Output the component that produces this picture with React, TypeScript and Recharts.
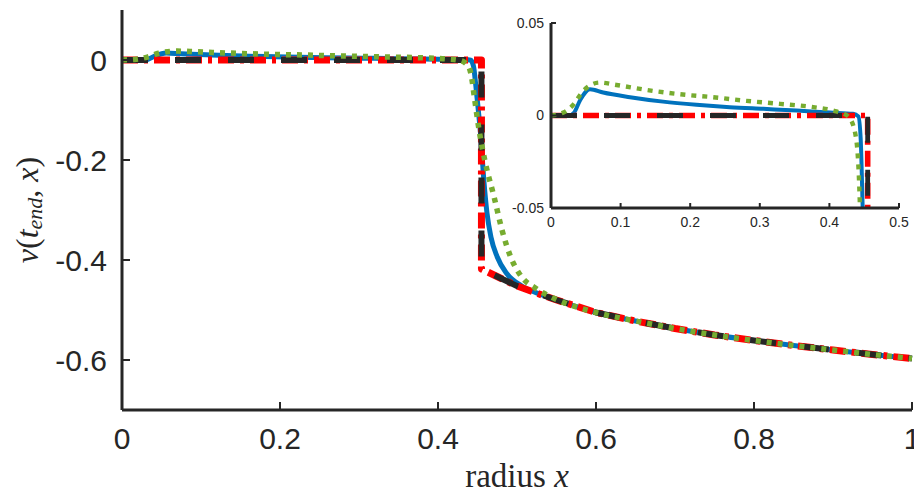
import { Label, Line, LineChart, XAxis, YAxis } from "recharts";

// reference solutions (red dash-dot, black dashed) share one grid
const exactX = [0, 0.455, 0.455, 0.48, 0.5, 0.528, 0.55, 0.6, 0.65, 0.7, 0.75, 0.8, 0.85, 0.9, 0.95, 1.0];
const redV = [0, 0, -0.418, -0.437, -0.452, -0.468, -0.48, -0.505, -0.522, -0.537, -0.55, -0.561, -0.571, -0.58, -0.589, -0.597];
const blackV = [0, 0, -0.418, -0.437, -0.452, -0.468, -0.48, -0.505, -0.522, -0.537, -0.55, -0.561, -0.571, -0.58, -0.589, -0.597];

const blueX = [
  0, 0.026, 0.033, 0.042, 0.056, 0.075, 0.1135, 0.161, 0.209, 0.257, 0.305, 0.353, 0.401, 0.434, 0.4416, 0.445,
  0.4478, 0.451, 0.454, 0.458, 0.462, 0.467, 0.475, 0.487, 0.506, 0.53, 0.55, 0.6, 0.65, 0.7, 0.75, 0.8, 0.85, 0.9,
  0.95, 1.0
];
const blueV = [
  0, 0, 0.0015, 0.0084, 0.0142, 0.0124, 0.0099, 0.0075, 0.0058, 0.0045, 0.0036, 0.0027, 0.0016, 0.0009, -0.0005,
  -0.013, -0.05, -0.1, -0.15, -0.24, -0.306, -0.354, -0.394, -0.427, -0.452, -0.469, -0.48, -0.505, -0.522, -0.537,
  -0.55, -0.561, -0.571, -0.58, -0.589, -0.597
];

const greenX = [
  0, 0.018, 0.032, 0.0465, 0.07, 0.094, 0.1375, 0.185, 0.233, 0.281, 0.329, 0.377, 0.41, 0.427, 0.437, 0.442, 0.446,
  0.452, 0.46, 0.471, 0.481, 0.492, 0.506, 0.524, 0.55, 0.6, 0.65, 0.7, 0.75, 0.8, 0.85, 0.9, 0.95, 1.0
];
const greenV = [
  0, 0.0016, 0.0058, 0.0134, 0.0178, 0.0165, 0.0138, 0.0115, 0.0099, 0.0079, 0.0063, 0.0045, 0.0022, -0.0005, -0.0095,
  -0.03, -0.074, -0.14, -0.206, -0.274, -0.34, -0.394, -0.434, -0.457, -0.479, -0.505, -0.522, -0.537, -0.55, -0.561,
  -0.571, -0.58, -0.589, -0.597
];

const mainXTicks = [0, 0.2, 0.4, 0.6, 0.8, 1];
const mainYTicks = [-0.6, -0.4, -0.2, 0];
const insetXTicks = [0, 0.1, 0.2, 0.3, 0.4, 0.5];
const insetYTicks = [-0.05, 0, 0.05];

const toPoints = (xs: number[], vs: number[]) => xs.map((x, i) => ({ x, v: vs[i] }));
const bluePts = toPoints(blueX, blueV);
const redPts = toPoints(exactX, redV);
const blackPts = toPoints(exactX, blackV);
const greenPts = toPoints(greenX, greenV);

const INK = "#262626";
const COLORS = { blue: "#0072BD", red: "#FF0000", black: "#262626", green: "#77AC30" };
const SANS = "'Liberation Sans', Arial, sans-serif";
const SERIF = "'Liberation Serif', 'Times New Roman', serif";

function YTitle(props: any) {
  const vb = props.viewBox ?? { x: 0, y: 10, width: 122, height: 400 };
  const cx = vb.x + 27;
  const cy = vb.y + vb.height / 2;
  return (
    <text
      x={cx}
      y={cy}
      transform={`rotate(-90, ${cx}, ${cy})`}
      textAnchor="middle"
      dominantBaseline="central"
      fontFamily={SERIF}
      fontSize={32}
      fill={INK}
    >
      <tspan fontStyle="italic">v</tspan>(<tspan fontStyle="italic">t</tspan>
      <tspan fontStyle="italic" fontSize={22} dy={7}>
        end
      </tspan>
      <tspan dy={-7}>, </tspan>
      <tspan fontStyle="italic">x</tspan>)
    </text>
  );
}

function XTitle(props: any) {
  const vb = props.viewBox ?? { x: 122, y: 410, width: 790, height: 60 };
  return (
    <text x={vb.x + vb.width / 2} y={vb.y + 77} textAnchor="middle" fontFamily={SERIF} fontSize={33} fill={INK}>
      radius <tspan fontStyle="italic">x</tspan>
    </text>
  );
}

export default function App() {
  // w scales the line widths: 1 for the main plot, thinner in the inset
  const lines = (w: number) => [
    <Line key="blue" data={bluePts} dataKey="v" type="monotone" stroke={COLORS.blue} strokeWidth={5 * w}
      strokeLinejoin="round" dot={false} activeDot={false} isAnimationActive={false} />,
    <Line key="red" data={redPts} dataKey="v" type="linear" stroke={COLORS.red} strokeWidth={7 * w}
      strokeDasharray="16 6 4 6" strokeLinejoin="round" dot={false} activeDot={false} isAnimationActive={false} />,
    <Line key="black" data={blackPts} dataKey="v" type="linear" stroke={COLORS.black} strokeWidth={6 * w}
      strokeDasharray="26 27" strokeLinejoin="round" dot={false} activeDot={false} isAnimationActive={false} />,
    <Line key="green" data={greenPts} dataKey="v" type="monotone" stroke={COLORS.green} strokeWidth={5.5 * w}
      strokeDasharray="5 6" dot={false} activeDot={false} isAnimationActive={false} />
  ];

  return (
    <div style={{ position: "absolute", left: 0, top: 0, width: 914, height: 495, background: "#fff" }}>
      <LineChart width={914} height={495} margin={{ top: 10, right: 2, bottom: 25, left: 0 }}>
        <XAxis
          type="number"
          dataKey="x"
          domain={[0, 1]}
          ticks={mainXTicks}
          interval={0}
          height={60}
          tickSize={-8}
          tickMargin={26}
          axisLine={{ stroke: INK, strokeWidth: 3 }}
          tickLine={{ stroke: INK, strokeWidth: 2 }}
          tick={{ fill: INK, fontSize: 30, fontFamily: SANS }}
        >
          <Label content={XTitle} />
        </XAxis>
        <YAxis
          type="number"
          domain={[-0.7, 0.1]}
          ticks={mainYTicks}
          interval={0}
          width={122}
          tickSize={-8}
          tickMargin={23}
          axisLine={{ stroke: INK, strokeWidth: 3 }}
          tickLine={{ stroke: INK, strokeWidth: 2 }}
          tick={{ fill: INK, fontSize: 30, fontFamily: SANS }}
        >
          <Label content={YTitle} />
        </YAxis>
        {lines(1)}
      </LineChart>

      <div style={{ position: "absolute", left: 500, top: 0 }}>
        <LineChart width={414} height={240} margin={{ top: 23, right: 15, bottom: 0, left: 0 }}>
          <XAxis
            type="number"
            dataKey="x"
            domain={[0, 0.5]}
            allowDataOverflow
            ticks={insetXTicks}
            interval={0}
            height={32}
            tickSize={-5}
            tickMargin={14}
            axisLine={{ stroke: INK, strokeWidth: 3 }}
            tickLine={{ stroke: INK, strokeWidth: 2 }}
            tick={{ fill: INK, fontSize: 14, fontFamily: SANS }}
          />
          <YAxis
            type="number"
            domain={[-0.05, 0.05]}
            allowDataOverflow
            ticks={insetYTicks}
            interval={0}
            width={51}
            tickSize={-5}
            tickMargin={12}
            axisLine={{ stroke: INK, strokeWidth: 3 }}
            tickLine={{ stroke: INK, strokeWidth: 2 }}
            tick={{ fill: INK, fontSize: 14, fontFamily: SANS }}
          />
          {lines(0.8)}
        </LineChart>
      </div>
    </div>
  );
}
